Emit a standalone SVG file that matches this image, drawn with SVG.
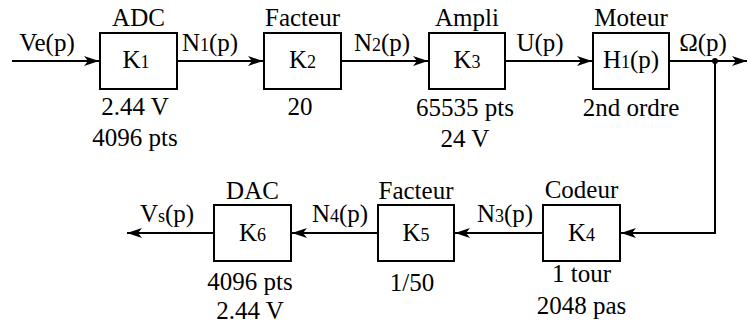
<svg xmlns="http://www.w3.org/2000/svg" width="748" height="324" viewBox="0 0 748 324">
<style>
text{font-family:"Liberation Serif","DejaVu Serif",serif;font-size:25px;fill:#000;text-anchor:middle}
.s{font-size:18px}
.box{fill:#fff;stroke:#000;stroke-width:2}
.ln{fill:none;stroke:#000;stroke-width:2}
</style>
<defs>
<marker id="ah" markerUnits="userSpaceOnUse" markerWidth="16" markerHeight="12" viewBox="0 0 16 12" refX="15" refY="6" orient="auto">
<path d="M0,1 L15,6 L0,11 L4,6 Z" fill="#000"/>
</marker>
</defs>
<rect width="748" height="324" fill="#fff"/>
<g id="connectors">
<line class="ln" x1="12" y1="61" x2="99" y2="61" marker-end="url(#ah)"/>
<line class="ln" x1="177" y1="61" x2="263" y2="61" marker-end="url(#ah)"/>
<line class="ln" x1="341" y1="61" x2="428" y2="61" marker-end="url(#ah)"/>
<line class="ln" x1="505" y1="61" x2="592" y2="61" marker-end="url(#ah)"/>
<line class="ln" x1="669" y1="61" x2="747" y2="61" marker-end="url(#ah)"/>
<polyline class="ln" points="715,61 715,233 621,233" marker-end="url(#ah)"/>
<line class="ln" x1="543" y1="233" x2="455" y2="233" marker-end="url(#ah)"/>
<line class="ln" x1="378" y1="233" x2="292" y2="233" marker-end="url(#ah)"/>
<line class="ln" x1="214" y1="233" x2="127" y2="233" marker-end="url(#ah)"/>
<circle cx="715" cy="61" r="3" fill="#000"/>
<text x="47" y="51">Ve(p)</text>
<text x="210" y="51">N<tspan class="s">1</tspan>(p)</text>
<text x="382" y="51">N<tspan class="s">2</tspan>(p)</text>
<text x="540" y="51">U(p)</text>
<text x="703" y="51">Ω(p)</text>
<text x="167" y="222">V<tspan class="s">s</tspan>(p)</text>
<text x="340" y="222">N<tspan class="s">4</tspan>(p)</text>
<text x="505" y="222">N<tspan class="s">3</tspan>(p)</text>
</g>
<g id="adc">
<rect class="box" x="100" y="33" width="77" height="56"/>
<text x="138.5" y="26">ADC</text>
<text x="136" y="68">K<tspan class="s">1</tspan></text>
<text x="135" y="115">2.44 V</text>
<text x="135" y="146">4096 pts</text>
</g>
<g id="facteur1">
<rect class="box" x="264" y="33" width="77" height="56"/>
<text x="302.5" y="26">Facteur</text>
<text x="302.5" y="68">K<tspan class="s">2</tspan></text>
<text x="300" y="115">20</text>
</g>
<g id="ampli">
<rect class="box" x="429" y="33" width="76" height="56"/>
<text x="467" y="26">Ampli</text>
<text x="467" y="68">K<tspan class="s">3</tspan></text>
<text x="465" y="116">65535 pts</text>
<text x="465" y="147">24 V</text>
</g>
<g id="moteur">
<rect class="box" x="593" y="33" width="76" height="56"/>
<text x="631" y="26">Moteur</text>
<text x="631" y="68">H<tspan class="s">1</tspan>(p)</text>
<text x="631" y="116">2nd ordre</text>
</g>
<g id="codeur">
<rect class="box" x="543" y="205" width="77" height="56"/>
<text x="581.5" y="198">Codeur</text>
<text x="581.5" y="241">K<tspan class="s">4</tspan></text>
<text x="581.5" y="282">1 tour</text>
<text x="581.5" y="314">2048 pas</text>
</g>
<g id="facteur2">
<rect class="box" x="378" y="205" width="76" height="56"/>
<text x="416" y="199">Facteur</text>
<text x="416" y="241">K<tspan class="s">5</tspan></text>
<text x="412" y="291">1/50</text>
</g>
<g id="dac">
<rect class="box" x="214" y="205" width="77" height="56"/>
<text x="252.5" y="199">DAC</text>
<text x="252.5" y="241">K<tspan class="s">6</tspan></text>
<text x="250" y="290">4096 pts</text>
<text x="250" y="319">2.44 V</text>
</g>
</svg>
